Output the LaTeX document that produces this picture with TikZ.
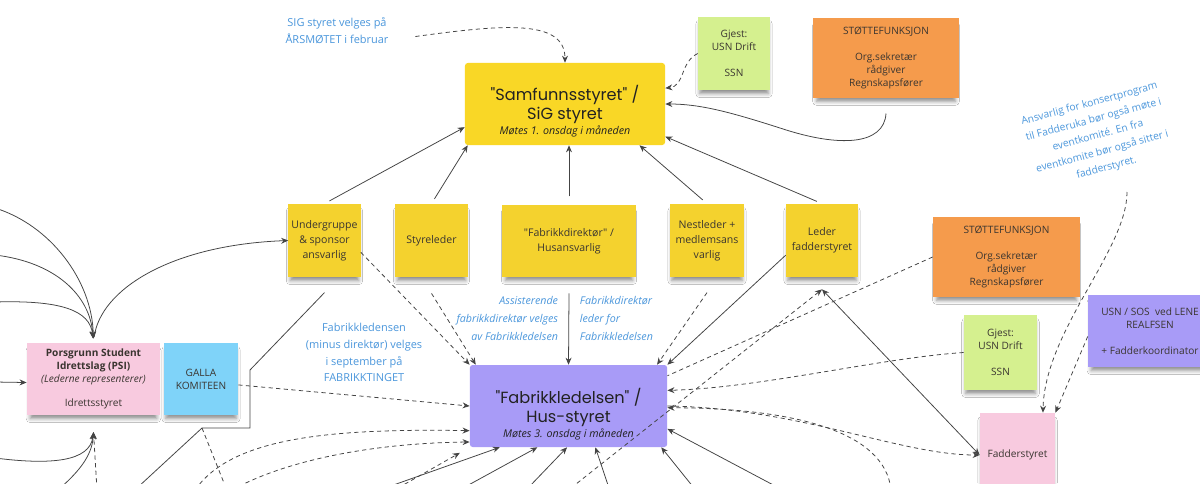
\documentclass[tikz,border=0pt]{standalone}
\usepackage{fontspec}
\setmainfont{Open Sans}[Ligatures=TeXOff]
\newfontfamily\titlefont{Poppins}
\usetikzlibrary{arrows.meta,shadows.blur}

\definecolor{samfYellow}{HTML}{F9D726}
\definecolor{noteYellow}{HTML}{F4D22E}
\definecolor{husPurple}{HTML}{A89BF7}
\definecolor{noteOrange}{HTML}{F59B4C}
\definecolor{noteGreen}{HTML}{D5F08F}
\definecolor{notePink}{HTML}{F8CADF}
\definecolor{noteBlue}{HTML}{7FD3F9}
\definecolor{noteText}{HTML}{3A3530}
\definecolor{titleText}{HTML}{222222}
\definecolor{infoBlue}{HTML}{4B97DC}
\definecolor{lineGray}{HTML}{444444}

\tikzset{
  >={Stealth[length=5pt,width=4.2pt]},
  note/.style={rectangle, align=center, inner sep=1pt, text=noteText,
    font=\fontsize{7.2}{9.3}\selectfont,
    blur shadow={shadow xshift=0pt, shadow yshift=-4pt, shadow scale=0.95,
      shadow blur radius=3pt, shadow opacity=45}},
  yellownote/.style={note, fill=noteYellow, minimum width=1.8cm, minimum height=1.83cm,
    font=\fontsize{7.5}{10.8}\selectfont},
  board/.style={rectangle, rounded corners=2pt, minimum width=5cm, minimum height=2.05cm},
  boardtext/.style={align=center, text=titleText, font=\titlefont\fontsize{11.5}{13.5}\selectfont},
  infotext/.style={align=center, text=infoBlue, font=\fontsize{7.8}{12}\selectfont},
  conn/.style={draw=lineGray, line width=0.55pt, ->},
  dconn/.style={conn, dash pattern=on 3pt off 2.4pt},
}

\begin{document}
\begin{tikzpicture}[x=0.025cm, y=-0.025cm]%Organisasjonskart SiG
    \fill[white] (0,0) rectangle (1200,483);
    \useasboundingbox (0,0) rectangle (1200,483);
    \clip (0,0) rectangle (1200,483);

    \coordinate (l1) at (-5,208);
    \coordinate (l2) at (-5,255);
    \coordinate (l3) at (-5,302);
    \coordinate (l4) at (-5,382);
    \coordinate (l5) at (-5,458);
    \coordinate (l6) at (58,490);
    \coordinate (l7) at (97,490);
    \coordinate (l8) at (137,488);
    \coordinate (l9) at (226,488);
    \coordinate (kneeA) at (250,370);
    \coordinate (kneeB) at (250,428);
    \coordinate (kneeC) at (202,428);
    \coordinate (s1) at (195,490);
    \coordinate (s2) at (232,490);
    \coordinate (s3) at (398,488);
    \coordinate (s4) at (571,488);
    \coordinate (s8) at (891,490);
    \coordinate (kAnsvar) at (1127,192);
    \foreach \n/\x in {b1/385,b2/463,b3/528,b4/609,b5/694,b6/779}
        \coordinate (\n) at (\x,488);

    \node[board, fill=samfYellow] (samfunn) at (565,104) {};
    \node[boardtext] (samfunnText) at (565,111) {"Samfunnsstyret" /\\SiG styret\\[-3pt]{\normalfont\fontsize{7.6}{9}\selectfont\itshape Møtes 1. onsdag i måneden}};
    \node[board, fill=husPurple, minimum width=4.93cm] (fabrikk) at (568.5,406) {};
    \node[boardtext] (fabrikkText) at (568.5,414) {"Fabrikkledelsen" /\\Hus-styret\\[-3pt]{\normalfont\fontsize{7.6}{9}\selectfont\itshape Møtes 3. onsdag i måneden}};

    \node[note, fill=noteGreen, minimum width=1.8cm, minimum height=1.83cm] (gjestTop) at (734,53.5) {Gjest:\\USN Drift\\[9pt]SSN};
    \node[note, fill=noteOrange, minimum width=3.65cm, minimum height=2cm] (stotteTop) at (886,58) {STØTTEFUNKSJON\\[9pt]Org.sekretær\\rådgiver\\Regnskapsfører};

    \node[yellownote] (undergr) at (324.5,240.5) {Undergruppe\\\& sponsor\\ansvarlig};
    \node[yellownote] (styreleder) at (431.5,240.5) {Styreleder};
    \node[yellownote, minimum width=3.35cm, minimum height=1.8cm] (direktor) at (569,241) {"Fabrikkdirektør" /\\Husansvarlig};
    \node[yellownote, minimum width=1.85cm] (nestleder) at (707,240.5) {Nestleder +\\medlemsans\\varlig};
    \node[yellownote] (lederFadder) at (822,240.5) {Leder\\fadderstyret};

    \node[note, fill=noteOrange, minimum width=3.68cm, minimum height=2cm] (stotteRight) at (1006.5,257) {STØTTEFUNKSJON\\[9pt]Org.sekretær\\rådgiver\\Regnskapsfører};
    \node[note, fill=noteGreen, minimum width=1.83cm, minimum height=1.88cm] (gjestRight) at (1000.5,352.5) {Gjest:\\USN Drift\\[9pt]SSN};
    \node[note, fill=husPurple, minimum width=3.1cm, minimum height=1.8cm] (usnSos) at (1150,331) {USN / SOS\ \ ved LENE\\REALFSEN\\[9pt]+ Fadderkoordinator};
    \node[note, fill=notePink, minimum width=1.88cm, minimum height=2.1cm] (fadder) at (1017.5,455) {Fadderstyret};

    \node[note, fill=notePink, minimum width=3.33cm, minimum height=1.8cm] (psi) at (93.5,379) {\textbf{Porsgrunn Student}\\\textbf{Idrettslag (PSI)}\\\textit{(Lederne representerer)}\\[7.5pt]Idrettsstyret};
    \node[note, fill=noteBlue, minimum width=1.85cm, minimum height=1.8cm] (galla) at (201,379) {GALLA\\KOMITEEN};

    \node[infotext] (sigNote) at (337,30.5) {SIG styret velges på\\ÅRSMØTET i februar};
    \node[infotext] (valgNote) at (364,352.5) {Fabrikkledensen\\(minus direktør) velges\\i september på\\FABRIKKTINGET};
    \node[infotext, align=right, anchor=east, font=\fontsize{7.6}{12.8}\selectfont\itshape] (assistNote) at (563,318) {Assisterende\\fabrikkdirektør velges\\av Fabrikkledelsen};
    \node[infotext, align=left, anchor=west, font=\fontsize{7.6}{12.8}\selectfont\itshape] (lederNote) at (575,318) {Fabrikkdirektør\\leder for\\Fabrikkledelsen};
    \node[infotext, rotate=15, font=\fontsize{7.3}{11.8}\selectfont] (ansvarNote) at (1098,136) {Ansvarlig for konsertprogram\\til Fadderuka bør også møte i\\eventkomité. En fra\\eventkomite bør også sitter i\\fadderstyret.};

    \draw[dconn] ([xshift=.55cm,yshift=-.15cm]sigNote.east) .. controls (500,25) and (565,18) .. (samfunn.north);
    \draw[dconn] (gjestTop.west) .. controls (680,62) and (685,86) .. (samfunn.9);
    \draw[conn] ([yshift=-.38cm]stotteTop.south) .. controls (884,145) and (840,148) .. (780,128) .. controls (730,112) and (700,104) .. (samfunn.east);
    \draw[conn, shorten <=4pt] (undergr.north) -- (samfunn.193);
    \draw[conn, shorten <=4pt] (styreleder.north) -- (samfunn.203);
    \draw[conn, shorten <=6pt] (direktor.north) -- (direktor.north |- samfunn.south);
    \draw[conn, shorten <=4pt] (nestleder.north) -- (samfunn.331);
    \draw[conn, shorten <=4pt] (lederFadder.north) -- (samfunn.342);

    \draw[dconn] (undergr.342) -- (fabrikk.north west);
    \draw[dconn] ([yshift=-.4cm]styreleder.south) -- (fabrikk.156);
    \draw[conn] ([yshift=-.4cm]direktor.south) -- (fabrikk.north);
    \draw[dconn] ([yshift=-.38cm]nestleder.south) -- (fabrikk.25);
    \draw[conn] (lederFadder.202) -- (fabrikk.north east);
    \draw[conn, <->] ([yshift=-.3cm]lederFadder.south) -- (fadder.west);
    \draw[dconn] (s4) -- ([yshift=-.3cm]lederFadder.south);
    \draw[dconn, -] (stotteRight.west) -- (fabrikk.17);
    \draw[dconn] (gjestRight.west) .. controls (880,358) and (760,388) .. (fabrikk.9);
    \draw[dconn] (fabrikk.east) .. controls (800,408) and (900,455) .. (fadder.west);
    \draw[dconn] (s8) .. controls (885,430) and (790,408) .. (fabrikk.359);
    \draw[dconn] (galla.351) -- (fabrikk.west);
    \draw[dconn] (s1) .. controls (230,440) and (320,428) .. (fabrikk.194);
    \draw[dconn] (s2) .. controls (290,458) and (380,443) .. (fabrikk.200);
    \draw[dconn, shorten >=8pt] (s3) -- (fabrikk.south west);
    \foreach \s/\a in {b1/211,b2/233,b3/268,b4/303,b5/336,b6/347}
        \draw[conn] (\s) -- (fabrikk.\a);

    \draw[conn, shorten >=3pt] (l1) .. controls (50,225) and (92,280) .. (psi.north);
    \draw[conn, shorten >=3pt] (l2) .. controls (55,262) and (90,295) .. (psi.north);
    \draw[conn, shorten >=3pt] (l3) .. controls (60,300) and (90,310) .. (psi.north);
    \draw[conn, shorten <=4pt] (psi.north) .. controls (100,290) and (170,245) .. (undergr.west);
    \draw[conn] (l4) -- (psi.183);
    \draw[conn] (l5) .. controls (50,465) and (90,462) .. ([yshift=-.42cm]psi.south);
    \draw[conn] (l6) .. controls (75,475) and (92,458) .. ([yshift=-.42cm]psi.south);
    \draw[dconn] (l7) -- ([yshift=-.42cm]psi.south);
    \draw[conn, -] ([yshift=-.38cm]undergr.south) -- (kneeA) -- (kneeB) -- (kneeC) -- (l8);
    \draw[dconn, -] (kneeC) -- (l9);

    \draw[dconn] (kAnsvar) .. controls (1127,250) and (1045,330) .. (fadder.59);
    \draw[dconn] (usnSos.185) -- (fadder.north east);
\end{tikzpicture}
\end{document}
